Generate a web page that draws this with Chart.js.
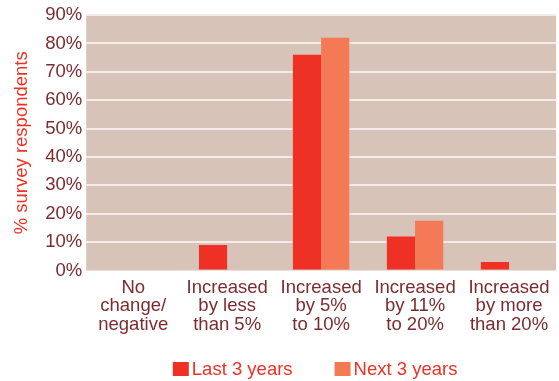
<!DOCTYPE html>
<html>
<head>
<meta charset="utf-8">
<script src="https://cdn.jsdelivr.net/npm/chart.js@4"></script>
<style>
  html, body { margin: 0; padding: 0; background: #fff; }
  #wrap { width: 559px; height: 381px; }
</style>
</head>
<body>
<div id="wrap"><canvas id="growthChart" width="559" height="381"></canvas></div>
<script>
const categories = [
    ['No', 'change/', 'negative'],
    ['Increased', 'by less', 'than 5%'],
    ['Increased', 'by 5%', 'to 10%'],
    ['Increased', 'by 11%', 'to 20%'],
    ['Increased', 'by more', 'than 20%']
];
const lastThreeYears = [0, 9, 76, 12, 3];
const nextThreeYears = [0, 0, 82, 17.5, 0];
const yTicks = [0, 10, 20, 30, 40, 50, 60, 70, 80, 90];

const RED = '#ee3124';
const ORANGE = '#f47a55';
const MAROON = '#7a2c2f';
const FONT = "'Liberation Sans', Arial, sans-serif";
const FONT_SIZE = 18.5;

// fundo bege só na área do gráfico
const plotBackground = {
    id: 'plotBackground',
    beforeDraw(chart) {
        const { ctx, chartArea: a } = chart;
        ctx.save();
        ctx.fillStyle = '#d8c3b9';
        ctx.fillRect(a.left, a.top, a.right - a.left, a.bottom - a.top);
        ctx.restore();
    }
};

// legenda desenhada à mão: quadrado colado ao texto, itens bem espaçados
const bottomLegend = {
    id: 'bottomLegend',
    afterDraw(chart) {
        const { ctx, chartArea: a } = chart;
        const box = 16, gap = 3, spacing = 42, y = 369;
        ctx.save();
        ctx.font = FONT_SIZE + 'px ' + FONT;
        ctx.textBaseline = 'middle';
        const items = chart.data.datasets.map(ds => ({
            text: ds.label, color: ds.backgroundColor, w: ctx.measureText(ds.label).width
        }));
        const total = items.reduce((s, it) => s + box + gap + it.w, 0) + spacing * (items.length - 1);
        let x = (a.left + a.right) / 2 - total / 2 - 6;
        items.forEach(it => {
            ctx.fillStyle = it.color;
            ctx.fillRect(x, y - 7, box, 14);
            ctx.fillStyle = RED;
            ctx.fillText(it.text, x + box + gap, y + 1);
            x += box + gap + it.w + spacing;
        });
        ctx.restore();
    }
};

const ctx = document.getElementById('growthChart').getContext('2d');
new Chart(ctx, {
    type: 'bar',
    data: {
        labels: categories,
        datasets: [
            { label: 'Last 3 years', data: lastThreeYears, backgroundColor: RED, borderWidth: 0 },
            { label: 'Next 3 years', data: nextThreeYears, backgroundColor: ORANGE, borderWidth: 0 }
        ]
    },
    options: {
        responsive: false,
        animation: false,
        layout: { padding: { top: 12, right: 3, left: 11, bottom: 39 } },
        datasets: { bar: { categoryPercentage: 0.6, barPercentage: 1 } },
        plugins: {
            tooltip: { enabled: false },
            legend: { display: false }
        },
        scales: {
            x: {
                grid: { display: false, drawTicks: false },
                border: { display: false },
                ticks: {
                    color: MAROON,
                    padding: 8,
                    maxRotation: 0,
                    autoSkip: false,
                    font: { family: FONT, size: FONT_SIZE, lineHeight: 1.0 }
                }
            },
            y: {
                min: 0,
                max: 90,
                afterBuildTicks(axis) {
                    axis.ticks = yTicks.map(v => ({ value: v }));
                },
                grid: {
                    drawTicks: false,
                    lineWidth: 2,
                    color: c => (c.tick && c.tick.value === 0 ? 'rgba(0,0,0,0)' : '#f4ece8')
                },
                border: { display: false },
                ticks: {
                    color: MAROON,
                    padding: 4,
                    font: { family: FONT, size: FONT_SIZE },
                    callback: v => v + '%'
                },
                title: {
                    display: true,
                    text: '% survey respondents',
                    color: RED,
                    padding: { top: 0, bottom: 8 },
                    font: { family: FONT, size: FONT_SIZE }
                }
            }
        }
    },
    plugins: [plotBackground, bottomLegend]
});
</script>
</body>
</html>
